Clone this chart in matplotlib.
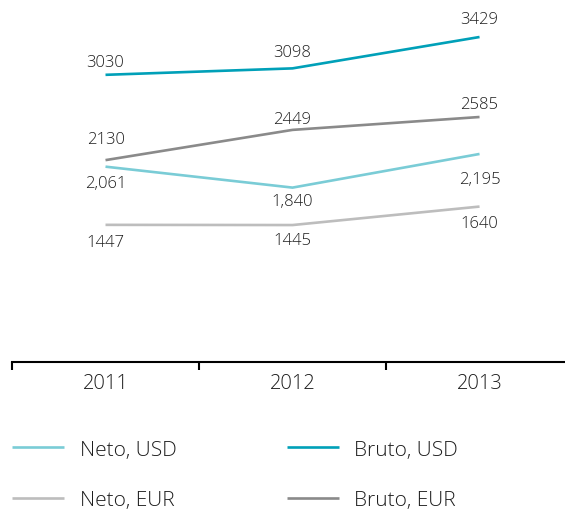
import matplotlib
matplotlib.use("Agg")
import matplotlib.pyplot as plt

plt.rcParams['font.family'] = ['Open Sans', 'DejaVu Sans']
plt.rcParams['font.weight'] = 'light'

years = ["2011", "2012", "2013"]
neto_usd = [2061, 1840, 2195]
bruto_usd = [3030, 3098, 3429]
neto_eur = [1447, 1445, 1640]
bruto_eur = [2130, 2449, 2585]

neto_usd_labels = ["2,061", "1,840", "2,195"]
bruto_usd_labels = ["3030", "3098", "3429"]
neto_eur_labels = ["1447", "1445", "1640"]
bruto_eur_labels = ["2130", "2449", "2585"]

text_col = "#1e1e1e"

fig = plt.figure(figsize=(5.65, 5.10), dpi=100)
ax = fig.add_axes([12/565, 147/510, 1 - 12/565, 363/510])

x = list(range(len(years)))

series = [
	("Neto, USD", neto_usd, neto_usd_labels, "#7accd6", [-12, -10, -18]),
	("Neto, EUR", neto_eur, neto_eur_labels, "#bdbdbd", [-12, -11, -12]),
	("Bruto, USD", bruto_usd, bruto_usd_labels, "#00a0b8", [9, 12, 13]),
	("Bruto, EUR", bruto_eur, bruto_eur_labels, "#8a8a8a", [15, 8, 9]),
]

handles = []
for name, vals, labs, col, offs in series:
	ln, = ax.plot(x, vals, color=col, lw=1.9, label=name, solid_capstyle='butt')
	handles.append(ln)
	for xi, v, lab, off in zip(x, vals, labs, offs):
		ax.annotate(lab, (xi, v), xytext=(0, off), textcoords='offset points',
			ha='center', va='center', fontsize=12, color=text_col)

ax.set_xlim(-0.5, 2.457)
ax.set_ylim(0, 3830)

for s in ['top', 'right', 'left']:
	ax.spines[s].set_visible(False)
ax.spines['bottom'].set_linewidth(1.5)
ax.spines['bottom'].set_color('black')
ax.set_yticks([])

ax.set_xticks([-0.5, 0.5, 1.5])
ax.set_xticklabels([])
ax.tick_params(axis='x', which='major', length=5.5, width=1.5, direction='out')
ax.set_xticks(x, minor=True)
ax.set_xticklabels(years, minor=True)
ax.tick_params(axis='x', which='minor', length=0, labelsize=14.5, labelcolor=text_col, pad=8)

fig.legend(handles, [h.get_label() for h in handles], ncol=2, loc='upper left',
	bbox_to_anchor=(0.021, 0.136), frameon=False, fontsize=15, labelcolor=text_col,
	handlelength=2.5, handletextpad=0.75, columnspacing=5.3, labelspacing=1.45,
	borderpad=0, borderaxespad=0)

fig.savefig("out.png", dpi=100)
